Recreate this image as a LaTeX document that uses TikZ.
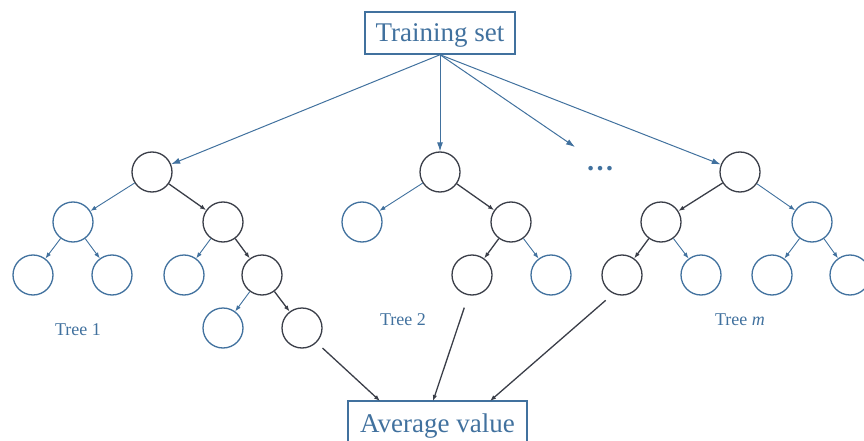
\documentclass[tikz,border=0pt]{standalone}
\usepackage{fontspec}
\setmainfont{Liberation Serif}
\usetikzlibrary{arrows.meta}
\definecolor{treeblue}{RGB}{65,113,158}
\definecolor{treedark}{RGB}{58,62,72}
\tikzstyle{bnode}=[circle, draw=treeblue, line width=1.3pt, minimum size=40pt, inner sep=0pt]
\tikzstyle{dnode}=[circle, draw=treedark, line width=1.3pt, minimum size=40pt, inner sep=0pt]
\tikzstyle{bedge}=[-{Latex[length=6pt, width=4.5pt]}, treeblue, line width=0.9pt]
\tikzstyle{dedge}=[-{Latex[length=6pt, width=4.5pt]}, treedark, line width=1.3pt]
\tikzstyle{topedge}=[-{Latex[length=9pt, width=6pt]}, treeblue, line width=1pt]
\tikzstyle{setbox}=[draw=treeblue, line width=1.5pt, text=treeblue, font=\fontsize{27}{30}\selectfont, text depth=0pt, minimum height=42pt, inner sep=0pt]
\tikzstyle{treename}=[text=treeblue, font=\fontsize{18}{20}\selectfont]

\begin{document}
\begin{tikzpicture}[x=1pt, y=-1pt]
\useasboundingbox (0,0) rectangle (864,441);
% Boxes
    \node[setbox, minimum width=150pt] (train) at (440,33) {Training set};
    \node[setbox, minimum width=179pt, minimum height=44pt] (avg) at (437.5,423) {Average value};
% Tree 1
    \node[dnode] (t1) at (152,172) {};
    \node[bnode] (t1l) at (73,222) {};
    \node[dnode] (t1r) at (223,222) {};
    \node[bnode] (t1ll) at (33,275) {};
    \node[bnode] (t1lr) at (112,275) {};
    \node[bnode] (t1rl) at (184,275) {};
    \node[dnode] (t1rr) at (262,275) {};
    \node[bnode] (t1rrl) at (223,328) {};
    \node[dnode] (t1rrr) at (302,328) {};
    \node[treename] (n1) at (78,330) {Tree 1};
% Tree 2
    \node[dnode] (t2) at (440,172) {};
    \node[bnode] (t2l) at (362,222) {};
    \node[dnode] (t2r) at (511,222) {};
    \node[dnode] (t2rl) at (472,275) {};
    \node[bnode] (t2rr) at (551,275) {};
    \node[treename] (n2) at (403,320) {Tree 2};
% Tree m
    \node[dnode] (tm) at (740,172) {};
    \node[dnode] (tml) at (661,222) {};
    \node[bnode] (tmr) at (812,222) {};
    \node[dnode] (tmll) at (622,275) {};
    \node[bnode] (tmlr) at (701,275) {};
    \node[bnode] (tmrl) at (772,275) {};
    \node[bnode] (tmrr) at (850,275) {};
    \node[treename] (nm) at (740,320) {Tree \textit{m}};
% Dots
    \node[anchor=base, text=treeblue, font=\fontsize{28}{30}\selectfont] (dots) at (600,170) {\textbf{\ldots}};
    \coordinate (dotsend) at (575,147);
% From the training set
    \draw[topedge] (train.south) -- (t1);
    \draw[topedge] (train.south) -- (t2);
    \draw[topedge] (train.south) -- (dotsend);
    \draw[topedge] (train.south) -- (tm);
% Tree 1 edges
    \draw[bedge] (t1) -- (t1l);
    \draw[dedge] (t1) -- (t1r);
    \draw[bedge] (t1l) -- (t1ll);
    \draw[bedge] (t1l) -- (t1lr);
    \draw[bedge] (t1r) -- (t1rl);
    \draw[dedge] (t1r) -- (t1rr);
    \draw[bedge] (t1rr) -- (t1rrl);
    \draw[dedge] (t1rr) -- (t1rrr);
% Tree 2 edges
    \draw[bedge] (t2) -- (t2l);
    \draw[dedge] (t2) -- (t2r);
    \draw[dedge] (t2r) -- (t2rl);
    \draw[bedge] (t2r) -- (t2rr);
% Tree m edges
    \draw[dedge] (tm) -- (tml);
    \draw[bedge] (tm) -- (tmr);
    \draw[dedge] (tml) -- (tmll);
    \draw[bedge] (tml) -- (tmlr);
    \draw[bedge] (tmr) -- (tmrl);
    \draw[bedge] (tmr) -- (tmrr);
% To the average value
    \coordinate (a1) at (380,401);
    \coordinate (a2) at (433,401);
    \coordinate (a3) at (490,401);
    \draw[dedge, shorten <=8pt] (t1rrr.-45) -- (a1);
    \draw[dedge, shorten <=13pt] (t2rl.260) -- (a2);
    \draw[dedge, shorten <=10pt] (tmll.245) -- (a3);
\end{tikzpicture}
\end{document}
